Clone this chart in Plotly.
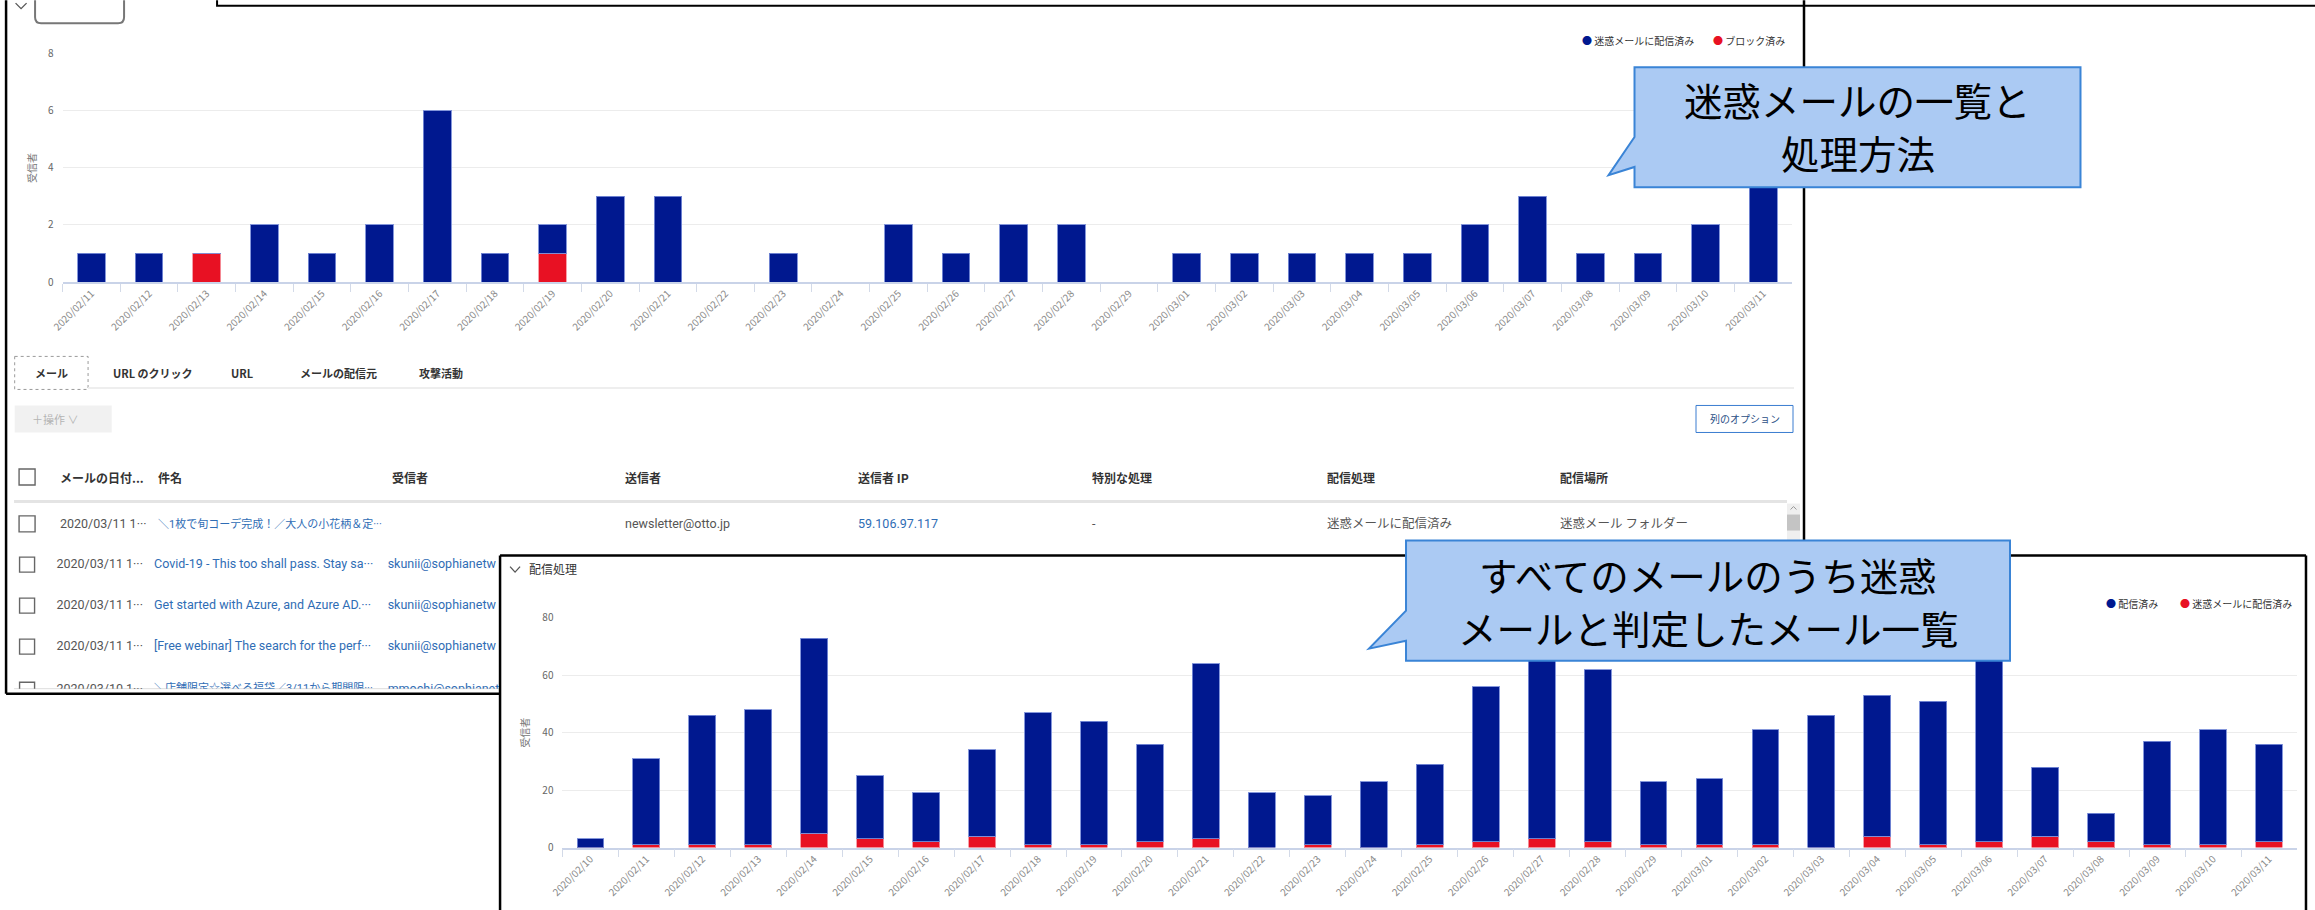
import plotly.graph_objects as go

W, H = 2315, 910

# ---------------- data ----------------
dates_top = ["2020/02/11", "2020/02/12", "2020/02/13", "2020/02/14", "2020/02/15", "2020/02/16",
             "2020/02/17", "2020/02/18", "2020/02/19", "2020/02/20", "2020/02/21", "2020/02/22",
             "2020/02/23", "2020/02/24", "2020/02/25", "2020/02/26", "2020/02/27", "2020/02/28",
             "2020/02/29", "2020/03/01", "2020/03/02", "2020/03/03", "2020/03/04", "2020/03/05",
             "2020/03/06", "2020/03/07", "2020/03/08", "2020/03/09", "2020/03/10", "2020/03/11"]
junk_delivered_top = [1, 1, 0, 2, 1, 2, 6, 1, 1, 3, 3, 0, 1, 0, 2, 1, 2, 2, 0, 1, 1, 1, 1, 1, 2, 3, 1, 1, 2, 4]
blocked_top = [0, 0, 1, 0, 0, 0, 0, 0, 1, 0, 0, 0, 0, 0, 0, 0, 0, 0, 0, 0, 0, 0, 0, 0, 0, 0, 0, 0, 0, 0]

dates_bottom = ["2020/02/10", "2020/02/11", "2020/02/12", "2020/02/13", "2020/02/14", "2020/02/15",
                "2020/02/16", "2020/02/17", "2020/02/18", "2020/02/19", "2020/02/20", "2020/02/21",
                "2020/02/22", "2020/02/23", "2020/02/24", "2020/02/25", "2020/02/26", "2020/02/27",
                "2020/02/28", "2020/02/29", "2020/03/01", "2020/03/02", "2020/03/03", "2020/03/04",
                "2020/03/05", "2020/03/06", "2020/03/07", "2020/03/08", "2020/03/09", "2020/03/10",
                "2020/03/11"]
delivered_bottom = [3, 30, 45, 47, 68, 22, 17, 30, 46, 43, 34, 61, 19, 17, 23, 28, 54, 65, 60, 22,
                    23, 40, 46, 49, 50, 65, 24, 10, 36, 40, 34]
junk_delivered_bottom = [0, 1, 1, 1, 5, 3, 2, 4, 1, 1, 2, 3, 0, 1, 0, 1, 2, 3, 2, 1,
                         1, 1, 0, 4, 1, 2, 4, 2, 1, 1, 2]

legend_top = ["迷惑メールに配信済み", "ブロック済み"]
legend_bottom = ["配信済み", "迷惑メールに配信済み"]
y_title = "受信者"
panel_title_bottom = "配信処理"

tabs = ["メール", "URL のクリック", "URL", "メールの配信元", "攻撃活動"]
action_button = "＋操作 ∨"
column_button = "列のオプション"
table_headers = ["メールの日付...", "件名", "受信者", "送信者", "送信者 IP", "特別な処理", "配信処理", "配信場所"]
row1 = ["2020/03/11 1···", "＼1枚で旬コーデ完成！／大人の小花柄＆定···", "", "newsletter@otto.jp",
        "59.106.97.117", "-", "迷惑メールに配信済み", "迷惑メール フォルダー"]
rows_dates = ["2020/03/11 1···", "2020/03/11 1···", "2020/03/11 1···", "2020/03/10 1···"]
rows_subjects = ["Covid-19 - This too shall pass. Stay sa···",
                 "Get started with Azure, and Azure AD.···",
                 "[Free webinar] The search for the perf···",
                 "＼店舗限定☆選べる福袋／3/11から期間限···"]
rows_recipients = ["skunii@sophianetw", "skunii@sophianetw", "skunii@sophianetw", "mmochi@sophianet"]

callout_top = ["迷惑メールの一覧と", "処理方法"]
callout_bottom = ["すべてのメールのうち迷惑", "メールと判定したメール一覧"]

# ---------------- styles ----------------
BLUE = "#00188F"
RED = "#E81123"
LINK = "#2F6DB5"
GRAY_TXT = "#555555"
DARK_TXT = "#333333"
FONT = "Noto Sans CJK JP"
TFONT = "Roboto, Noto Sans CJK JP"
ROW_FONT = 12.5       # latin table text
ROW_FONT_CJK = 11     # japanese table text
CALLOUT_FONT = 38.5

# page-placement compensation (the page is shown inset, then fitted to the window)
OFF_X, OFF_Y = 12, 8
SX = (W + 14) / W
SY = (H + 16) / H


def px(x):
    return (x * SX - OFF_X) / W


def py(y):
    return 1 - (y * SY - OFF_Y) / H


def P(x, y):
    return f"{px(x):.6f},{py(y):.6f}"


def is_cjk(s):
    return any(ord(ch) > 0x2E80 for ch in s)


shapes = []


def line(x0, y0, x1, y1, color="black", width=2, dash=None, layer="below"):
    d = dict(type="line", xref="paper", yref="paper", x0=px(x0), y0=py(y0), x1=px(x1), y1=py(y1),
             line=dict(color=color, width=width), layer=layer)
    if dash:
        d["line"]["dash"] = dash
    shapes.append(d)


def rect(x0, y0, x1, y1, line_color="rgba(0,0,0,0)", fill="rgba(0,0,0,0)", width=1, dash=None, layer="below"):
    d = dict(type="rect", xref="paper", yref="paper", x0=px(x0), y0=py(y0), x1=px(x1), y1=py(y1),
             line=dict(color=line_color, width=width), fillcolor=fill, layer=layer)
    if dash:
        d["line"]["dash"] = dash
    shapes.append(d)


def path(d, color, width=1.5, fill=None, layer="below"):
    s = dict(type="path", xref="paper", yref="paper", path=d, line=dict(color=color, width=width), layer=layer)
    if fill:
        s["fillcolor"] = fill
    shapes.append(s)


annotations = []


def text(x, y, s, size=11, color=DARK_TXT, xanchor="left", family=FONT, angle=0, borderpad=1):
    annotations.append(dict(x=px(x), y=py(y), xref="paper", yref="paper", text=s, showarrow=False,
                            xanchor=xanchor, yanchor="middle", textangle=angle, borderpad=borderpad,
                            font=dict(size=size, color=color, family=family)))


fig = go.Figure()

# ---------------- charts ----------------
bar_line_blue = dict(color="rgba(120,140,215,0.9)", width=1)
bar_line_red = dict(color="rgba(245,150,160,0.9)", width=1)

fig.add_trace(go.Bar(x=dates_top, y=blocked_top, name=legend_top[1], marker=dict(color=RED, line=bar_line_red),
                     xaxis="x", yaxis="y", showlegend=False))
fig.add_trace(go.Bar(x=dates_top, y=junk_delivered_top, name=legend_top[0], marker=dict(color=BLUE, line=bar_line_blue),
                     xaxis="x", yaxis="y", showlegend=False))
fig.add_trace(go.Bar(x=dates_bottom, y=junk_delivered_bottom, name=legend_bottom[1],
                     marker=dict(color=RED, line=bar_line_red), xaxis="x2", yaxis="y2", showlegend=False))
fig.add_trace(go.Bar(x=dates_bottom, y=delivered_bottom, name=legend_bottom[0],
                     marker=dict(color=BLUE, line=bar_line_blue), xaxis="x2", yaxis="y2", showlegend=False))

# ---------------- table rows partly hidden by the lower panel (clipped) ----------------
COL_X = [57.4, 155, 388.6, 621.7, 855, 1089.4, 1323.7, 1557.3]
ROW_Y = [564, 605, 646, 689]
tx, ty, tt, tc, ts = [], [], [], [], []
for i in range(len(rows_dates)):
    for j, (s, c) in enumerate([(rows_dates[i], GRAY_TXT), (rows_subjects[i], LINK), (rows_recipients[i], LINK)]):
        tx.append(COL_X[j] - 3)
        ty.append(ROW_Y[i])
        tt.append(s)
        tc.append(c)
        ts.append(ROW_FONT_CJK if is_cjk(s) else ROW_FONT)
fig.add_trace(go.Scatter(x=tx, y=ty, text=tt, mode="text", textposition="middle right",
                         textfont=dict(size=ts, color=tc, family=TFONT), xaxis="x3", yaxis="y3",
                         cliponaxis=True, showlegend=False, hoverinfo="skip"))
fig.add_trace(go.Scatter(x=[25] * len(ROW_Y), y=ROW_Y, mode="markers",
                         marker=dict(symbol="square-open", size=15, color="#666666",
                                     line=dict(width=1.4, color="#666666")),
                         xaxis="x3", yaxis="y3", cliponaxis=True, showlegend=False, hoverinfo="skip"))

# ---------------- axes ----------------
xcommon = dict(type="category", tickson="boundaries", ticks="outside", ticklen=8, tickcolor="#d3dae8",
               showline=True, linecolor="#c9d3e8", linewidth=1.5, showgrid=False, tickangle=-45,
               tickfont=dict(size=10, color="#8a8a8a"), zeroline=False)
ycommon = dict(showgrid=True, gridcolor="#ececec", gridwidth=1, zeroline=False, showline=False,
               tickfont=dict(size=10, color="#666666"), ticks="", ticklabelstandoff=8)

fig.update_layout(
    xaxis=dict(domain=[px(60.5), px(1790)], anchor="y", **xcommon),
    yaxis=dict(domain=[py(281.7), py(52.7)], anchor="x", range=[0, 8.02], dtick=2, **ycommon),
    xaxis2=dict(domain=[px(560.4), px(2295)], anchor="y2", **xcommon),
    yaxis2=dict(domain=[py(846.7), py(616.7)], anchor="x2", range=[0, 80.2], dtick=20, **ycommon),
    xaxis3=dict(domain=[px(14), px(497)], anchor="y3", range=[14, 497], visible=False),
    yaxis3=dict(domain=[py(688), py(545)], anchor="x3", range=[688, 545], visible=False),
)

# ---------------- frames / decorations ----------------
# top panel frame
line(4, 0, 4, 693, "black", 2.5)
line(4, 693, 498, 693, "black", 2.5)
line(12, 688, 498, 688, "#dddddd", 1)
line(1802, 0, 1802, 540, "black", 2.5)
# box at top edge
path("M " + P(215, 0) + " L " + P(215, 5.5) + " L " + P(2315, 5.5), "black", 2)
# rounded box top-left
path("M " + P(33, 0) + " L " + P(33, 17) + " Q " + P(33, 23) + " " + P(39, 23) + " L " + P(116, 23)
     + " Q " + P(122, 23) + " " + P(122, 17) + " L " + P(122, 0), "#777777", 2)
# chevron top-left
path("M " + P(13.5, 3) + " L " + P(19, 8.5) + " L " + P(24.5, 3), "#555555", 1.3)

# tabs
rect(12.6, 356, 86, 389, line_color="#9a9a9a", dash="dot", width=1)
line(86, 387.5, 1792, 387.5, "#eeeeee", 2)
tab_x = [49, 109, 227, 296, 415]
for i, t in enumerate(tabs):
    text(tab_x[i], 373, "<b>" + t + "</b>", size=11, color=DARK_TXT, xanchor="center" if i == 0 else "left")

# buttons
rect(12.6, 405, 109.6, 432, fill="#f1f1f1")
text(28, 418.5, action_button, size=11, color="#b4b4b4")
rect(1694, 405, 1791, 432, line_color="#3a7dd0", fill="white", width=1)
text(1742.5, 418.5, column_button, size=10, color="#2b4f86", xanchor="center")

# header
rect(17, 468.5, 33, 484.5, line_color="#666666", fill="white", width=1.4)
for j, h in enumerate(table_headers):
    text(COL_X[j] - 1, 476.7, "<b>" + h + "</b>", size=12, color=DARK_TXT)
line(12, 501, 1785, 501, "#e4e4e4", 3)

# row 1
rect(17, 515.3, 33, 531.3, line_color="#666666", fill="white", width=1.4)
row1_colors = [GRAY_TXT, LINK, LINK, GRAY_TXT, LINK, GRAY_TXT, GRAY_TXT, GRAY_TXT]
for j, s in enumerate(row1):
    if s:
        text(COL_X[j] - 1, 523.3, s, size=ROW_FONT_CJK if j == 1 else ROW_FONT,
             color=row1_colors[j], family=TFONT)

# scrollbar
rect(1785, 503, 1798, 540, fill="#efefef")
rect(1785, 514, 1798, 530, fill="#c4c4c4")
path("M " + P(1788.5, 509) + " L " + P(1791.5, 506) + " L " + P(1794.5, 509), "#999999", 1)

# lower panel frame
line(498, 555, 2304, 555, "black", 2.5)
line(498, 555, 498, 930, "black", 2.5)
line(2304, 555, 2304, 930, "black", 2.5)
path("M " + P(508, 566) + " L " + P(513, 571.5) + " L " + P(518, 566), "#555555", 1.3)
text(525, 568, panel_title_bottom, size=12, color=DARK_TXT)

# y axis titles
text(28.7, 168, y_title, size=10, color="#777777", xanchor="center", angle=-90)
text(523, 732, y_title, size=10, color="#777777", xanchor="center", angle=-90)


# legends (circle markers + labels)
def legend_item(x, y, color, label):
    text(x, y, f'<span style="color:{color}">●</span> {label}', size=10, color=DARK_TXT)


legend_item(1578, 40, BLUE, legend_top[0])
legend_item(1709, 40, RED, legend_top[1])
legend_item(2102, 603, BLUE, legend_bottom[0])
legend_item(2176, 603, RED, legend_bottom[1])

# callouts
CALL_FILL = "#abcaf3"
CALL_LINE = "#3a84d6"
path("M " + P(1632.5, 67) + " L " + P(2078.5, 67) + " L " + P(2078.5, 187) + " L " + P(1632.5, 187)
     + " L " + P(1632.5, 166.7) + " L " + P(1606.5, 175) + " L " + P(1632.5, 136.7) + " Z",
     CALL_LINE, 2, fill=CALL_FILL, layer="above")
path("M " + P(1404, 540) + " L " + P(2008, 540) + " L " + P(2008, 660) + " L " + P(1404, 660)
     + " L " + P(1404, 640) + " L " + P(1367, 648) + " L " + P(1404, 610) + " Z",
     CALL_LINE, 2, fill=CALL_FILL, layer="above")
for s, yy in zip(callout_top, [99, 152]):
    text(1855.5, yy, s, size=CALLOUT_FONT, color="black", xanchor="center", borderpad=0)
for s, yy in zip(callout_bottom, [573, 626]):
    text(1706, yy, s, size=CALLOUT_FONT, color="black", xanchor="center", borderpad=0)

fig.update_layout(
    width=W, height=H, autosize=False,
    margin=dict(l=0, r=0, t=0, b=0),
    paper_bgcolor="white", plot_bgcolor="rgba(0,0,0,0)",
    barmode="stack", bargap=0.52,
    font=dict(family=FONT, color=GRAY_TXT),
    showlegend=False,
    shapes=shapes, annotations=annotations,
)

fig.write_html("out.html")
